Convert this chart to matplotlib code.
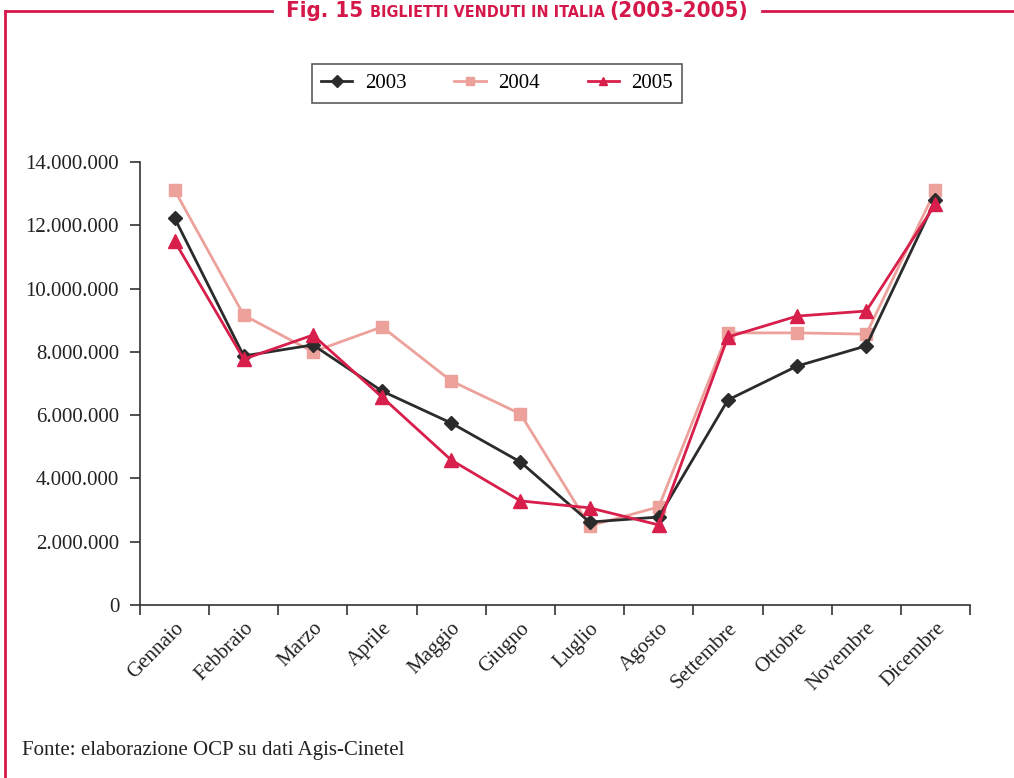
import numpy as np
import matplotlib
matplotlib.use("Agg")
import matplotlib.pyplot as plt
from matplotlib.lines import Line2D
from matplotlib.ticker import FuncFormatter, FixedLocator

# Dati (biglietti venduti per mese)
mesi = ["Gennaio", "Febbraio", "Marzo", "Aprile", "Maggio", "Giugno",
        "Luglio", "Agosto", "Settembre", "Ottobre", "Novembre", "Dicembre"]
v2003 = [12230000, 7870000, 8220000, 6760000, 5750000, 4520000,
         2620000, 2780000, 6480000, 7550000, 8190000, 12800000]
v2004 = [13110000, 9160000, 8000000, 8790000, 7080000, 6040000,
         2500000, 3100000, 8600000, 8600000, 8560000, 13110000]
v2005 = [11500000, 7770000, 8530000, 6570000, 4580000, 3290000,
         3070000, 2530000, 8470000, 9130000, 9290000, 12670000]
anni = ["2003", "2004", "2005"]

rosso = "#d5184a"
col2003 = "#2b2b2b"
col2004 = "#eca29b"
col2005 = "#d81e4a"
serif = "Liberation Serif"

fig = plt.figure(figsize=(10.14, 7.78), dpi=100)
ax = fig.add_axes([140 / 1014, 1 - 605 / 778, 830 / 1014, 443 / 778])

x = np.arange(len(mesi))
ax.plot(x, v2003, color=col2003, lw=2.0, marker="D", ms=7.5, label=anni[0], zorder=3)
ax.plot(x, v2004, color=col2004, lw=2.0, marker="s", ms=8.5, label=anni[1], zorder=2)
ax.plot(x, v2005, color=col2005, lw=2.0, marker="^", ms=9.5, label=anni[2], zorder=4)

ax.set_xlim(-0.5, len(mesi) - 0.5)
ax.set_ylim(0, 14000000)
ax.set_yticks(np.arange(0, 14000001, 2000000))
ax.yaxis.set_major_formatter(FuncFormatter(lambda v, p: f"{int(v):,}".replace(",", ".")))

ax.set_xticks(x)
ax.set_xticklabels(mesi, rotation=45, ha="right", rotation_mode="anchor")
ax.xaxis.set_minor_locator(FixedLocator(np.arange(-0.5, len(mesi), 1.0)))
ax.tick_params(axis="x", which="major", length=0, pad=10)
ax.tick_params(axis="x", which="minor", length=7, width=1.2, color="#333333")
ax.tick_params(axis="y", length=7, width=1.2, color="#333333", pad=8)
for lab in ax.get_xticklabels() + ax.get_yticklabels():
    lab.set_fontfamily(serif)
    lab.set_fontsize(15)
    lab.set_color("#222222")

for s in ["top", "right"]:
    ax.spines[s].set_visible(False)
for s in ["left", "bottom"]:
    ax.spines[s].set_color("#333333")
    ax.spines[s].set_linewidth(1.2)

leg = ax.legend(loc="center", bbox_to_anchor=(497 / 1014, 1 - 83.5 / 778),
                bbox_transform=fig.transFigure, ncol=3, frameon=True,
                fancybox=False, prop={"family": serif, "size": 15},
                handlelength=1.5, columnspacing=2.3, borderpad=0.45,
                handletextpad=0.6)
leg.get_frame().set_edgecolor("#333333")
leg.get_frame().set_linewidth(1.2)
for h in leg.legend_handles:
    h.set_markersize(6)

# Titolo con cornice rossa
fig.canvas.draw()
r = fig.canvas.get_renderer()
pezzi = [("Fig. 15 ", 16), ("BIGLIETTI VENDUTI IN ITALIA ", 11.5), ("(2003-2005)", 16)]
texts = []
for s, fs in pezzi:
    t = fig.text(0, 0, s, color=rosso, fontsize=fs, fontweight="bold",
                 fontstretch="condensed", family="DejaVu Sans", va="baseline")
    texts.append(t)
widths = [t.get_window_extent(r).width for t in texts]
tot = sum(widths)
x0 = 517 - tot / 2
for t, w in zip(texts, widths):
    t.set_position((x0 / 1014, 1 - 17 / 778))
    x0 += w
start = (517 - tot / 2 - 14) / 1014
end = (517 + tot / 2 + 14) / 1014
ly = 1 - 11 / 778
fig.add_artist(Line2D([5 / 1014, start], [ly, ly], color=rosso, lw=2, transform=fig.transFigure))
fig.add_artist(Line2D([end, 1.0], [ly, ly], color=rosso, lw=2, transform=fig.transFigure))
fig.add_artist(Line2D([5 / 1014, 5 / 1014], [ly + 0.5 / 778, 0], color=rosso, lw=2,
                      transform=fig.transFigure))

fig.text(22 / 1014, 1 - 750 / 778, "Fonte: elaborazione OCP su dati Agis-Cinetel",
         family=serif, fontsize=15, color="#222222", va="center")

fig.savefig("out.png", dpi=100)
